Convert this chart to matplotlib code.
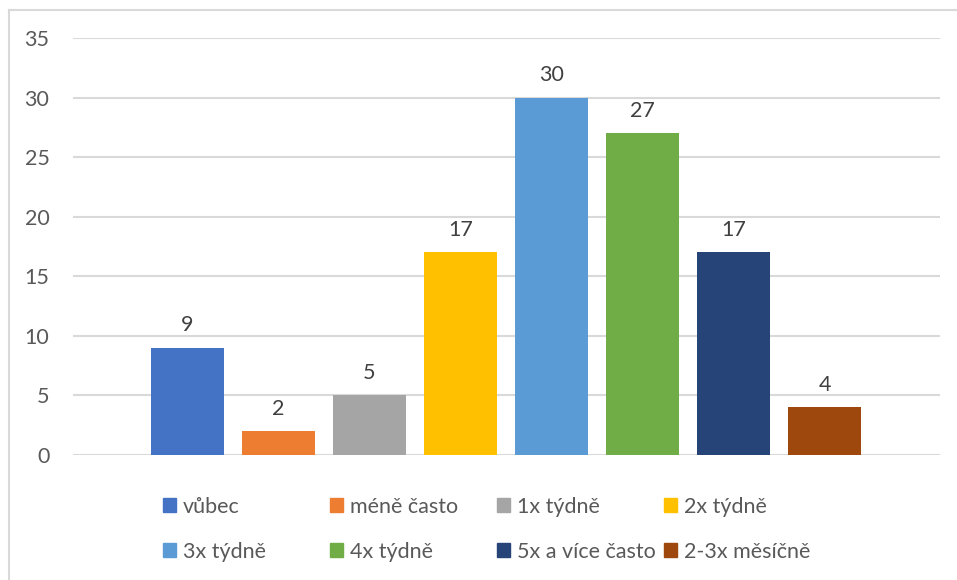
import matplotlib.pyplot as plt
from matplotlib.lines import Line2D
from matplotlib.patches import Patch

plt.rcParams['font.family'] = ['Lato', 'DejaVu Sans']

labels = ['vůbec', 'méně často', '1x týdně', '2x týdně',
          '3x týdně', '4x týdně', '5x a více často', '2-3x měsíčně']
values = [9, 2, 5, 17, 30, 27, 17, 4]
colors = ['#4472C4', '#ED7D31', '#A5A5A5', '#FFC000',
          '#5B9BD5', '#70AD47', '#264478', '#9E480E']
yticks = [0, 5, 10, 15, 20, 25, 30, 35]

W, H = 957, 580
fig = plt.figure(figsize=(W/100, H/100), dpi=100)
ax = fig.add_axes([73/W, 1-455/H, (940-73)/W, (455-38)/H])

bars = []
for i, (lab, v, c) in enumerate(zip(labels, values, colors)):
    b = ax.bar(i, v, width=0.8, color=c, label=lab, zorder=3)
    ax.bar_label(b, padding=9, fontsize=15.5, color='#404040')
    bars.append(b)

ax.set_ylim(0, 35)
ax.set_xlim(-0.4-78/91, 7.4+79/91)
ax.set_yticks(yticks)
ax.set_xticks([])
ax.tick_params(axis='y', length=0, pad=17, labelsize=15.5, labelcolor='#595959')
ax.grid(axis='y', color='#d9d9d9', linewidth=1.5, zorder=0)
for s in ax.spines.values():
    s.set_visible(False)

# legend: 4 equal-width columns, 2 rows
col_x = [163, 330, 497, 664]
row_y = [507, 552]
for i, (lab, c) in enumerate(zip(labels, colors)):
    x = col_x[i % 4] / W
    y = 1 - row_y[i // 4] / H
    fig.legend([Patch(color=c)], [lab], loc='center left',
               bbox_to_anchor=(x, y), frameon=False, fontsize=15.5,
               labelcolor='#595959', handlelength=0.62, handleheight=0.62,
               handletextpad=0.3, borderpad=0, borderaxespad=0)

# chart border (top and left edges visible)
fig.add_artist(Line2D([9/W, 9/W], [0, 1-10/H], color='#d9d9d9', linewidth=1.5))
fig.add_artist(Line2D([9/W, 1], [1-10/H, 1-10/H], color='#d9d9d9', linewidth=1.5))

fig.savefig('out.png', dpi=100)
